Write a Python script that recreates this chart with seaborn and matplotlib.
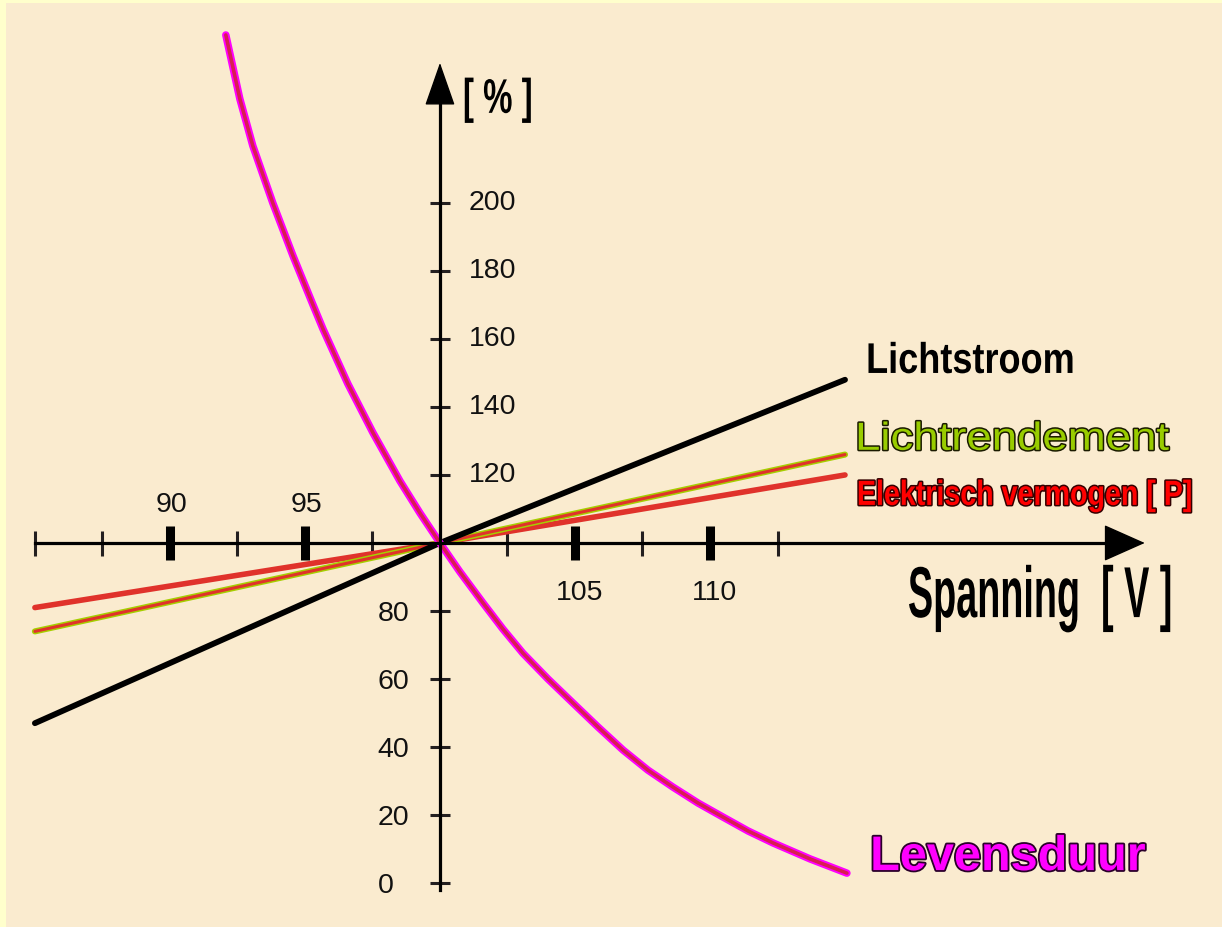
import matplotlib
matplotlib.use("Agg")
import matplotlib.pyplot as plt
import seaborn as sns
import pandas as pd
from matplotlib.patheffects import AbstractPathEffect
from matplotlib.transforms import Affine2D

# data
volt_lines = [85, 100, 115]
lichtstroom = [47, 100, 148]
lichtrendement = [74, 100, 126]
elektrisch = [81, 100, 120]

volt_leven = [92.07, 92.33, 92.59, 93.07, 93.81, 94.56, 95.30, 95.67, 96.59, 97.52,
              98.52, 99.26, 100, 100.74, 101.59, 102.33, 103.07, 104.0, 104.93, 105.85,
              106.78, 107.70, 108.63, 109.56, 110.48, 111.41, 112.33, 113.70, 115.07]
levensduur = [249.4, 240.0, 230.6, 216.8, 200.0, 184.4, 170.0, 162.9, 146.8, 132.4,
              118.2, 108.8, 100, 91.5, 82.4, 74.7, 67.6, 60.0, 52.9, 45.9,
              39.1, 33.2, 28.2, 23.5, 19.4, 15.3, 11.8, 7.1, 2.9]

x_major = [90, 95, 105, 110]
x_minor = [85, 87.5, 92.5, 97.5, 102.5, 107.5, 112.5]
y_ticks = [0, 20, 40, 60, 80, 120, 140, 160, 180, 200]


class Stretch(AbstractPathEffect):
    """scale text glyphs around their anchor, optional outline"""
    def __init__(self, sx=1.0, sy=1.0, edge=None, ew=0.0):
        super().__init__()
        self.sx, self.sy, self.edge, self.ew = sx, sy, edge, ew

    def draw_path(self, renderer, gc, tpath, affine, rgbFace=None):
        m = affine.get_matrix()
        x0, y0 = m[0, 2], m[1, 2]
        tr = affine + Affine2D().translate(-x0, -y0).scale(self.sx, self.sy).translate(x0, y0)
        if self.edge is not None:
            gc0 = renderer.new_gc()
            gc0.copy_properties(gc)
            gc0.set_foreground(self.edge)
            gc0.set_linewidth(self.ew)
            gc0.set_joinstyle("round")
            renderer.draw_path(gc0, tpath, tr, None)
            gc0.restore()
        renderer.draw_path(gc, tpath, tr, rgbFace)


sns.set_theme(style="white")
plt.rcParams["font.family"] = ["Liberation Sans", "DejaVu Sans"]

fig = plt.figure(figsize=(12.22, 9.27), dpi=100)
fig.patch.set_facecolor("#FFFFCC")
ax = fig.add_axes([6 / 1222, 0, 1216 / 1222, 924 / 927])
ax.set_facecolor("#FAEBCF")
ax.set_xlim(83.93, 128.96)
ax.set_ylim(-12.94, 258.8)

df = pd.DataFrame({"V": volt_lines, "licht": lichtstroom,
                   "rend": lichtrendement, "elek": elektrisch})
dl = pd.DataFrame({"V": volt_leven, "leven": levensduur})

sns.lineplot(data=df, x="V", y="elek", color="#E0322B", lw=4.0, ax=ax)
sns.lineplot(data=df, x="V", y="rend", color="#A6CE00", lw=4.4, ax=ax)
sns.lineplot(data=df, x="V", y="rend", color="#E0322B", lw=2.2, ax=ax)
sns.lineplot(data=df, x="V", y="licht", color="black", lw=4.2, ax=ax)
sns.lineplot(data=dl, x="V", y="leven", color="#FF00FF", lw=5.4, ax=ax)
sns.lineplot(data=dl, x="V", y="leven", color="#D81E50", lw=2.6, ax=ax)

# axes through (100, 100)
for s in ["top", "right"]:
    ax.spines[s].set_visible(False)
ax.spines["left"].set_position(("data", 100))
ax.spines["bottom"].set_position(("data", 100))
ax.spines["left"].set_bounds(-2, 229.7)
ax.spines["bottom"].set_bounds(85, 124.7)
for s in ["left", "bottom"]:
    ax.spines[s].set_linewidth(2.3)
    ax.spines[s].set_color("black")

ax.set_xticks(x_major)
ax.set_xticks(x_minor, minor=True)
ax.set_yticks(y_ticks)
ax.set_xticklabels([])
ax.set_yticklabels([])
ax.tick_params(which="both", bottom=True, left=True)
ax.tick_params(axis="x", which="major", direction="inout", length=25, width=6.5, color="black")
ax.tick_params(axis="x", which="minor", direction="inout", length=18, width=2.2, color="#231F20")
ax.tick_params(axis="y", direction="inout", length=15, width=2.2, color="#231F20")
ax.set_xlabel("")
ax.set_ylabel("")

ax.annotate("", xy=(126.1, 100), xytext=(124.6, 100),
            arrowprops=dict(arrowstyle="-|>,head_length=1.35,head_width=0.6",
                            mutation_scale=20, color="black", lw=1, shrinkA=0, shrinkB=0))
ax.annotate("", xy=(100, 241.2), xytext=(100, 229.5),
            arrowprops=dict(arrowstyle="-|>,head_length=1.4,head_width=0.49",
                            mutation_scale=20, color="black", lw=1, shrinkA=0, shrinkB=0))

# tick labels
for v in x_major:
    if v < 100:
        ax.annotate(str(v), xy=(v, 100), xytext=(1, 22), textcoords="offset points",
                    ha="center", va="baseline", fontsize=20.5, color="#111111")
    else:
        ax.annotate(str(v), xy=(v, 100), xytext=(3, -41), textcoords="offset points",
                    ha="center", va="baseline", fontsize=20.5, color="#111111")
for t in y_ticks:
    if t > 100:
        ax.annotate(str(t), xy=(100, t), xytext=(21, 2), textcoords="offset points",
                    ha="left", va="center_baseline", fontsize=20.5, color="#111111")
    else:
        ax.annotate(str(t), xy=(100, t), xytext=(-45, 0), textcoords="offset points",
                    ha="left", va="center_baseline", fontsize=20.5, color="#111111")

# labels
ax.text(100.85, 226.5, "[ % ]", fontsize=23.8, fontweight="bold", color="black",
        ha="left", va="baseline", path_effects=[Stretch(1.0, 1.47)])
ax.text(117.33, 78.2, "Spanning  [ V ]", fontsize=27.2, fontweight="bold", color="black",
        ha="left", va="baseline", path_effects=[Stretch(1.0, 1.91)])
ax.text(115.78, 150, "Lichtstroom", fontsize=26, fontweight="bold", color="black",
        ha="left", va="baseline", path_effects=[Stretch(1.0, 1.19)])
ax.text(115.37, 127.4, "Lichtrendement", fontsize=32.8, color="#99CC00",
        ha="left", va="baseline", path_effects=[Stretch(1.0, 0.86, edge="#1A1A00", ew=2.2)])
ax.text(115.44, 111.2, "Elektrisch vermogen [ P]", fontsize=20.6, fontweight="bold", color="#FF0000",
        ha="left", va="baseline", path_effects=[Stretch(1.0, 1.22, edge="#330000", ew=2.2)])
ax.text(115.93, 3.8, "Levensduur", fontsize=35, fontweight="bold", color="#FF00FF",
        ha="left", va="baseline", path_effects=[Stretch(1.0, 1.0, edge="#2A002A", ew=2.6)])

fig.savefig("out.png", dpi=100, facecolor=fig.get_facecolor())
